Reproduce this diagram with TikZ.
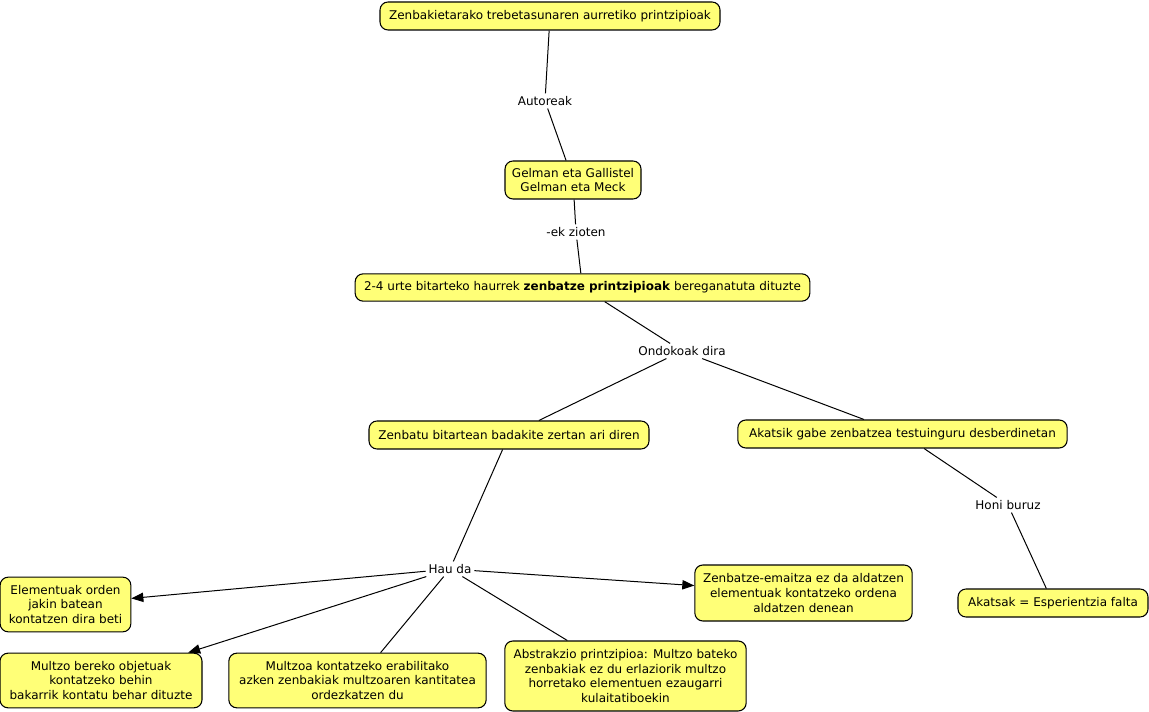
\documentclass[tikz,border=0pt]{standalone}
\usepackage{fontspec}
\setmainfont{DejaVu Sans}
\usetikzlibrary{arrows.meta}
\begin{document}
\begin{tikzpicture}[x=0.75pt,y=-0.75pt,
  font=\fontsize{9}{10.9}\selectfont,
  box/.style={draw=black, line width=0.8pt, fill=boxyellow, rounded corners=6pt, align=center, inner sep=2pt},
  lbl/.style={fill=white, inner sep=2pt, align=center},
  conn/.style={draw=black, line width=0.75pt},
  arr/.style={conn, -{Triangle[length=9pt,width=7pt]}}
]
\definecolor{boxyellow}{RGB}{255,255,119}
\useasboundingbox (0,0) rectangle (1149,712);
\node[box, minimum width=255pt, minimum height=21pt] (top) at (550,16) {Zenbakietarako trebetasunaren aurretiko printzipioak};
\node[box, minimum width=102pt, minimum height=28.5pt] (gel) at (573,180) {Gelman eta Gallistel\\Gelman eta Meck};
\node[box, minimum width=341pt, minimum height=20.5pt] (hau) at (582.5,287.5) {2-4 urte bitarteko haurrek \textbf{zenbatze printzipioak} bereganatuta dituzte};
\node[box, minimum width=210pt, minimum height=21pt] (zen) at (509,435) {Zenbatu bitartean badakite zertan ari diren};
\node[box, minimum width=247pt, minimum height=21pt] (aka) at (902.5,434) {Akatsik gabe zenbatzea testuinguru desberdinetan};
\node[box, minimum width=98pt, minimum height=41pt] (ele) at (65.5,604.5) {Elementuak orden\\jakin batean\\kontatzen dira beti};
\node[box, minimum width=151.5pt, minimum height=41pt] (mul) at (101,680.5) {Multzo bereko objetuak\\kontatzeko behin\\bakarrik kontatu behar dituzte};
\node[box, minimum width=193pt, minimum height=41pt] (mka) at (357.5,680.5) {Multzoa kontatzeko erabilitako\\azken zenbakiak multzoaren kantitatea\\ordezkatzen du};
\node[box, minimum width=181pt, minimum height=52.5pt] (abs) at (625.5,676) {Abstrakzio printzipioa: Multzo bateko\\zenbakiak ez du erlaziorik multzo\\horretako elementuen ezaugarri\\kulaitatiboekin};
\node[box, minimum width=163pt, minimum height=42pt] (zem) at (803.5,593) {Zenbatze-emaitza ez da aldatzen\\elementuak kontatzeko ordena\\aldatzen denean};
\node[box, minimum width=142.5pt, minimum height=21pt] (aks) at (1053,603) {Akatsak = Esperientzia falta};

\node[lbl] (l1) at (545,101) {Autoreak};
\node[lbl] (l2) at (576,232) {-ek zioten};
\node[lbl] (l3) at (682,351) {Ondokoak dira};
\node[lbl] (l4) at (1008,505) {Honi buruz};
\node[lbl] (l5) at (450,569) {Hau da};

\draw[conn] (top) -- (l1);
\draw[conn] (l1) -- (gel);
\draw[conn] (gel) -- (l2);
\draw[conn] (l2) -- (hau);
\draw[conn] (hau) -- (l3);
\draw[conn] (l3) -- (zen);
\draw[conn] (l3) -- (aka);
\draw[conn] (aka) -- (l4);
\draw[conn] (l4) -- (aks);
\draw[conn] (zen) -- (l5);
\draw[arr] (l5) -- (ele);
\draw[arr] (l5) -- (mul);
\draw[arr] (l5) -- (zem);
\draw[conn] (l5) -- (mka);
\draw[conn] (l5) -- (abs);
\end{tikzpicture}
\end{document}
